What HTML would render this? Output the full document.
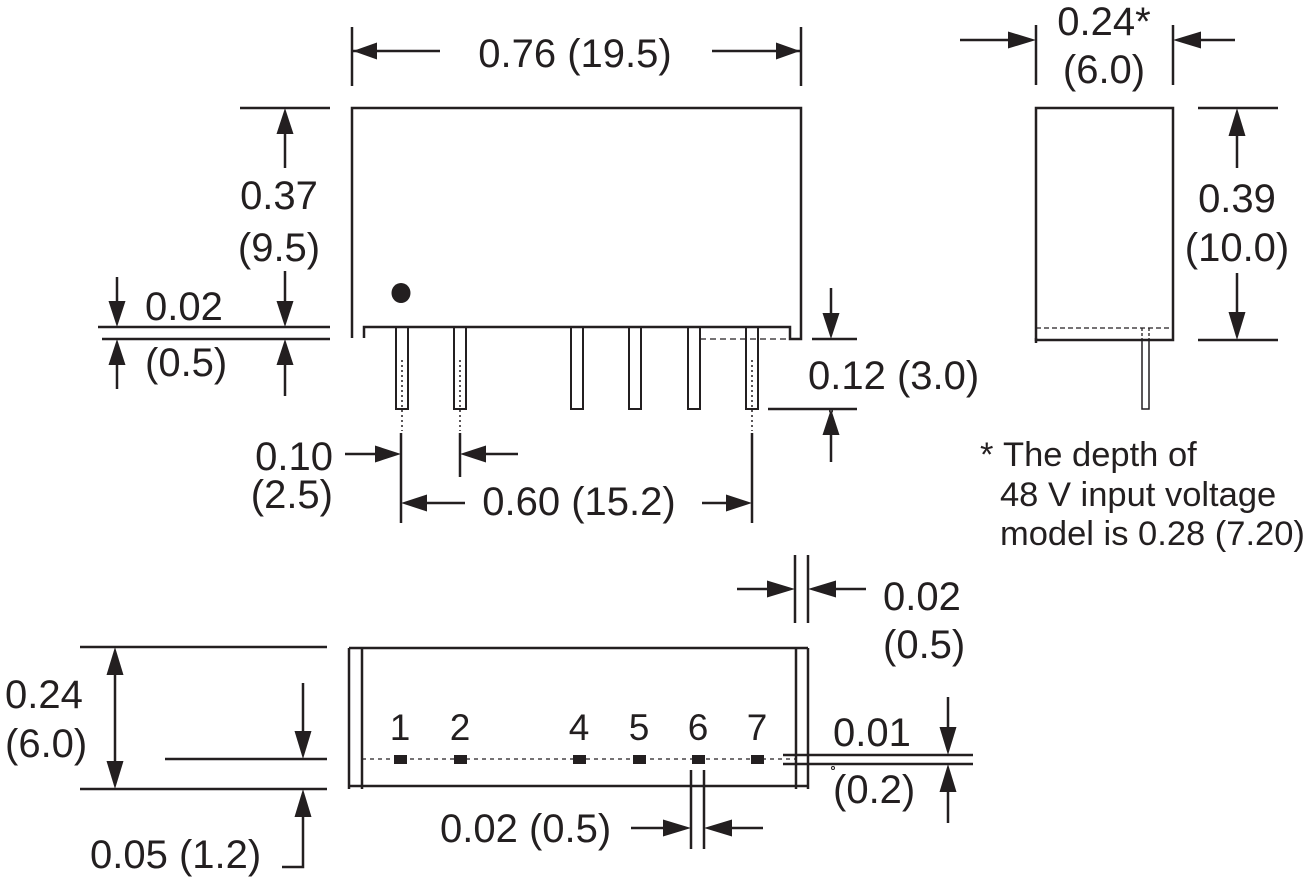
<!DOCTYPE html>
<html>
<head>
<meta charset="utf-8">
<style>
html,body{margin:0;padding:0;background:#fff;}
svg{display:block;}
text{font-family:"Liberation Sans",Arial,sans-serif;fill:#231f20;}
</style>
</head>
<body>
<svg width="1310" height="883" viewBox="0 0 1310 883" xmlns="http://www.w3.org/2000/svg">
<g stroke="#231f20" stroke-width="2.5" fill="none">
  <!-- TOP VIEW -->
  <line x1="352" y1="27" x2="352" y2="86"/>
  <line x1="801" y1="27" x2="801" y2="86"/>
  <line x1="352" y1="51" x2="440" y2="51"/>
  <line x1="712" y1="51" x2="801" y2="51"/>
  <path d="M352,338 V108 H801 V339 H790 V327 H364 V338"/>
  <!-- pins -->
  <g stroke-width="2">
    <rect x="396" y="327" width="12" height="82"/>
    <rect x="454" y="327" width="12" height="82"/>
    <rect x="571" y="327" width="12" height="82"/>
    <rect x="629" y="327" width="12" height="82"/>
    <rect x="688" y="327" width="12" height="82"/>
    <rect x="746" y="327" width="12" height="82"/>
  </g>
  <g stroke-width="1.5" stroke-dasharray="2 3">
    <line x1="402" y1="360" x2="402" y2="431"/>
    <line x1="460" y1="360" x2="460" y2="431"/>
    <line x1="752" y1="360" x2="752" y2="431"/>
  </g>
  <line x1="700" y1="339" x2="790" y2="339" stroke-width="1.3" stroke-dasharray="6 4"/>

  <!-- 0.37 / 0.02 dims -->
  <line x1="240" y1="108" x2="330" y2="108"/>
  <line x1="98" y1="327" x2="330" y2="327"/>
  <line x1="102" y1="339" x2="330" y2="339"/>
  <line x1="285" y1="130" x2="285" y2="168"/>
  <line x1="285" y1="271" x2="285" y2="305"/>
  <line x1="285" y1="360" x2="285" y2="396"/>
  <line x1="117" y1="277" x2="117" y2="305"/>
  <line x1="117" y1="360" x2="117" y2="389"/>

  <!-- 0.12 dim -->
  <line x1="812" y1="339" x2="857" y2="339"/>
  <line x1="768" y1="409" x2="857" y2="409"/>
  <line x1="831" y1="288" x2="831" y2="318"/>
  <line x1="831" y1="430" x2="831" y2="462"/>

  <!-- 0.10 / 0.60 dims -->
  <line x1="401" y1="433" x2="401" y2="523"/>
  <line x1="460" y1="433" x2="460" y2="477"/>
  <line x1="752" y1="433" x2="752" y2="523"/>
  <line x1="345" y1="454" x2="380" y2="454"/>
  <line x1="480" y1="454" x2="518" y2="454"/>
  <line x1="420" y1="503" x2="465" y2="503"/>
  <line x1="702" y1="503" x2="733" y2="503"/>

  <!-- SIDE VIEW -->
  <line x1="1036" y1="25" x2="1036" y2="85"/>
  <line x1="1173" y1="25" x2="1173" y2="85"/>
  <line x1="960" y1="40" x2="1015" y2="40"/>
  <line x1="1195" y1="40" x2="1235" y2="40"/>
  <rect x="1036" y="108" width="137" height="232"/>
  <line x1="1036" y1="338" x2="1036" y2="343"/>
  <line x1="1036" y1="328" x2="1173" y2="328" stroke-width="1.3" stroke-dasharray="5 3"/>
  <line x1="1142" y1="328" x2="1142" y2="340" stroke-width="1.3" stroke-dasharray="3 2"/>
  <line x1="1149" y1="328" x2="1149" y2="340" stroke-width="1.3" stroke-dasharray="3 2"/>
  <rect x="1142" y="340" width="7" height="69" stroke-width="1.5"/>
  <line x1="1198" y1="108" x2="1278" y2="108"/>
  <line x1="1198" y1="340" x2="1278" y2="340"/>
  <line x1="1237" y1="130" x2="1237" y2="168"/>
  <line x1="1237" y1="273" x2="1237" y2="318"/>

  <!-- BOTTOM VIEW -->
  <line x1="80" y1="647" x2="327" y2="647"/>
  <line x1="80" y1="789" x2="327" y2="789"/>
  <line x1="165" y1="759" x2="327" y2="759"/>
  <line x1="115" y1="665" x2="115" y2="771"/>
  <line x1="303" y1="683" x2="303" y2="740"/>
  <polyline points="303,808 303,867 282,867"/>

  <line x1="349" y1="648" x2="808" y2="648"/>
  <line x1="349" y1="786" x2="808" y2="786"/>
  <line x1="349" y1="648" x2="349" y2="789"/>
  <line x1="362" y1="648" x2="362" y2="789"/>
  <line x1="796" y1="648" x2="796" y2="789"/>
  <line x1="808" y1="648" x2="808" y2="789"/>
  <line x1="362" y1="759" x2="796" y2="759" stroke-width="1.3" stroke-dasharray="4 4"/>

  <!-- bottom 0.02 -->
  <line x1="691" y1="770" x2="691" y2="849"/>
  <line x1="704" y1="770" x2="704" y2="849"/>
  <line x1="631" y1="828" x2="670" y2="828"/>
  <line x1="725" y1="828" x2="763" y2="828"/>

  <!-- right 0.02 -->
  <line x1="795" y1="555" x2="795" y2="623"/>
  <line x1="808" y1="555" x2="808" y2="623"/>
  <line x1="737" y1="589" x2="775" y2="589"/>
  <line x1="828" y1="589" x2="866" y2="589"/>

  <!-- 0.01 -->
  <line x1="783" y1="755" x2="973" y2="755"/>
  <line x1="783" y1="764" x2="973" y2="764"/>
  <line x1="948" y1="697" x2="948" y2="735"/>
  <line x1="948" y1="785" x2="948" y2="823"/>
</g>

<!-- arrowheads -->
<g fill="#231f20" stroke="none">
  <polygon points="353,51 377,42.5 377,59.5"/>
  <polygon points="800,51 776,42.5 776,59.5"/>
  <polygon points="285,108 276.5,134 293.5,134"/>
  <polygon points="285,327 276.5,301 293.5,301"/>
  <polygon points="285,339 276.5,365 293.5,365"/>
  <polygon points="117,327 108.5,301 125.5,301"/>
  <polygon points="117,339 108.5,365 125.5,365"/>
  <polygon points="831,339 822.5,313 839.5,313"/>
  <polygon points="831,409 822.5,435 839.5,435"/>
  <polygon points="401,454 375,445.5 375,462.5"/>
  <polygon points="460,454 486,445.5 486,462.5"/>
  <polygon points="401,503 427,494.5 427,511.5"/>
  <polygon points="752,503 726,494.5 726,511.5"/>
  <polygon points="1036,40 1008,31.5 1008,48.5"/>
  <polygon points="1173,40 1201,31.5 1201,48.5"/>
  <polygon points="1237,108 1228.5,136 1245.5,136"/>
  <polygon points="1237,340 1228.5,312 1245.5,312"/>
  <polygon points="115,647 106.5,675 123.5,675"/>
  <polygon points="115,789 106.5,761 123.5,761"/>
  <polygon points="303,759 294.5,731 311.5,731"/>
  <polygon points="303,789 294.5,817 311.5,817"/>
  <polygon points="691,828 663,819.5 663,836.5"/>
  <polygon points="704,828 732,819.5 732,836.5"/>
  <polygon points="795,589 767,580.5 767,597.5"/>
  <polygon points="808,589 836,580.5 836,597.5"/>
  <polygon points="948,755 939.5,727 956.5,727"/>
  <polygon points="948,764 939.5,792 956.5,792"/>
  <ellipse cx="401" cy="293" rx="9.5" ry="10"/>
  <rect x="394" y="755" width="13" height="9"/>
  <rect x="454" y="755" width="13" height="9"/>
  <rect x="573" y="755" width="13" height="9"/>
  <rect x="633" y="755" width="13" height="9"/>
  <rect x="692" y="755" width="13" height="9"/>
  <rect x="751" y="755" width="13" height="9"/>
</g>
<circle cx="831" cy="411" r="1.5" fill="none" stroke="#231f20" stroke-width="1"/>
<circle cx="833" cy="768" r="1.5" fill="none" stroke="#231f20" stroke-width="1"/>

<!-- TEXT -->
<g font-size="40">
  <text x="575" y="67" text-anchor="middle">0.76 (19.5)</text>
  <text x="279" y="209" text-anchor="middle">0.37</text>
  <text x="279" y="261" text-anchor="middle">(9.5)</text>
  <text x="145" y="320">0.02</text>
  <text x="145" y="376">(0.5)</text>
  <text x="808" y="389">0.12 (3.0)</text>
  <text x="333" y="470" text-anchor="end">0.10</text>
  <text x="333" y="508" text-anchor="end">(2.5)</text>
  <text x="579" y="515" text-anchor="middle">0.60 (15.2)</text>
  <text x="1104" y="35" text-anchor="middle">0.24*</text>
  <text x="1104" y="83" text-anchor="middle">(6.0)</text>
  <text x="1237" y="212" text-anchor="middle">0.39</text>
  <text x="1237" y="261" text-anchor="middle">(10.0)</text>
  <text x="5" y="708">0.24</text>
  <text x="5" y="757">(6.0)</text>
  <text x="90" y="868">0.05 (1.2)</text>
  <text x="440" y="842">0.02 (0.5)</text>
  <text x="883" y="610">0.02</text>
  <text x="883" y="658">(0.5)</text>
  <text x="833" y="746">0.01</text>
  <text x="833" y="803">(0.2)</text>
</g>
<g font-size="37" text-anchor="middle">
  <text x="400" y="740">1</text>
  <text x="460" y="740">2</text>
  <text x="579" y="740">4</text>
  <text x="639" y="740">5</text>
  <text x="698" y="740">6</text>
  <text x="757" y="740">7</text>
</g>
<g font-size="34.5">
  <text x="980" y="466">*</text>
  <text x="1003" y="466">The depth of</text>
  <text x="1000" y="506">48 V input voltage</text>
  <text x="1000" y="545">model is 0.28 (7.20)</text>
</g>
</svg>
</body>
</html>
